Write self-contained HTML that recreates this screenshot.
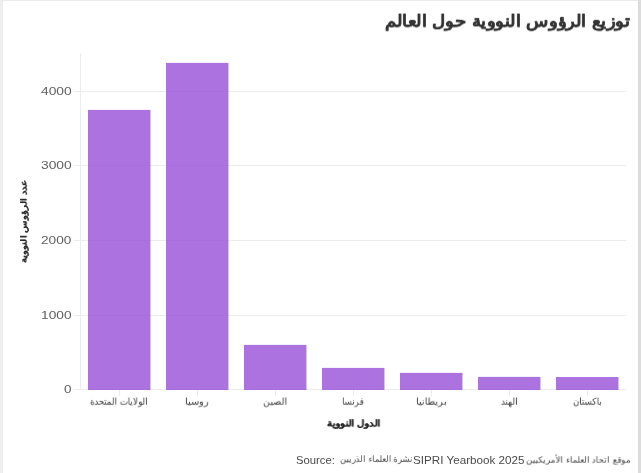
<!DOCTYPE html>
<html lang="ar"><head><meta charset="utf-8"><style>html,body{margin:0;padding:0;background:#fff;width:641px;height:473px;overflow:hidden;}
body{position:relative;font-family:"Liberation Sans",sans-serif;}
.bl{position:absolute;left:0;top:0;width:2px;height:473px;background:#efefef;border-right:1px solid #ebebeb;}
.bt{position:absolute;left:0;top:0;width:641px;height:1px;background:#ebebeb;}
.br{position:absolute;right:0;top:0;width:3px;height:473px;background:#dcdcdc;}
.t{position:absolute;white-space:nowrap;line-height:1;transform-origin:0 0;will-change:transform;}
</style></head>
<body><div class="bl"></div><div class="bt"></div><div class="br"></div>
<svg width="641" height="473" style="position:absolute;left:0;top:0">
<g fill="#ececec" shape-rendering="crispEdges">
<rect x="80" y="53" width="1" height="337"/>
<rect x="74" y="91" width="552" height="1"/>
<rect x="74" y="165" width="552" height="1"/>
<rect x="74" y="240" width="552" height="1"/>
<rect x="74" y="315" width="552" height="1"/>
<rect x="74" y="389" width="552" height="1"/>
<rect x="119" y="390" width="1" height="6"/>
<rect x="197" y="390" width="1" height="6"/>
<rect x="275" y="390" width="1" height="6"/>
<rect x="353" y="390" width="1" height="6"/>
<rect x="431" y="390" width="1" height="6"/>
<rect x="509" y="390" width="1" height="6"/>
<rect x="587" y="390" width="1" height="6"/>
</g>
<g fill="rgb(150,79,216)" fill-opacity="0.8">
<rect x="88" y="109.9" width="62.45" height="280.1"/>
<rect x="166" y="62.9" width="62.45" height="327.1"/>
<rect x="244" y="344.9" width="62.45" height="45.1"/>
<rect x="322" y="367.9" width="62.45" height="22.1"/>
<rect x="400" y="372.9" width="62.45" height="17.1"/>
<rect x="478" y="376.9" width="62.45" height="13.1"/>
<rect x="556" y="377" width="62.45" height="13"/>
</g>
</svg>
<div class="t" style="left:384.95px;top:12.76px;direction:rtl;font-weight:bold;font-size:17px;color:#333;-webkit-text-stroke:0.2px #333;transform:scale(1.077,0.963)">توزيع الرؤوس النووية حول العالم</div>
<div class="t" style="left:41.08px;top:85.69px;direction:ltr;font-size:11px;color:#606060;transform:scale(1.256,1.031)">4000</div>
<div class="t" style="left:41.22px;top:159.68px;direction:ltr;font-size:11px;color:#606060;transform:scale(1.254,1.040)">3000</div>
<div class="t" style="left:41.38px;top:234.78px;direction:ltr;font-size:11px;color:#606060;transform:scale(1.240,1.025)">2000</div>
<div class="t" style="left:41.02px;top:309.75px;direction:ltr;font-size:11px;color:#606060;transform:scale(1.247,1.028)">1000</div>
<div class="t" style="left:63.85px;top:383.96px;direction:ltr;font-size:11px;color:#606060;transform:scale(1.223,1.007)">0</div>
<div class="t" style="left:89.79px;top:396.93px;direction:rtl;font-size:9.5px;color:#3c3c3c;transform:scale(0.875,0.959)">الولايات المتحدة</div>
<div class="t" style="left:185.07px;top:397.13px;direction:rtl;font-size:9.5px;color:#3c3c3c;transform:scale(0.992,0.959)">روسيا</div>
<div class="t" style="left:263.30px;top:397.13px;direction:rtl;font-size:9.5px;color:#3c3c3c;transform:scale(0.934,0.959)">الصين</div>
<div class="t" style="left:342.31px;top:397.13px;direction:rtl;font-size:9.5px;color:#3c3c3c;transform:scale(0.848,0.959)">فرنسا</div>
<div class="t" style="left:416.30px;top:397.13px;direction:rtl;font-size:9.5px;color:#3c3c3c;transform:scale(0.964,0.959)">بريطانيا</div>
<div class="t" style="left:501.34px;top:396.93px;direction:rtl;font-size:9.5px;color:#3c3c3c;transform:scale(0.883,0.959)">الهند</div>
<div class="t" style="left:573.23px;top:397.33px;direction:rtl;font-size:9.5px;color:#3c3c3c;transform:scale(0.877,0.959)">باكستان</div>
<div class="t" style="left:326.58px;top:419.11px;direction:rtl;font-weight:bold;font-size:10.5px;color:#222;-webkit-text-stroke:0.2px #222;transform:scale(0.933,0.819)">الدول النووية</div>
<div class="t" style="left:295.77px;top:454.62px;direction:ltr;font-size:11px;color:#4a4a4a;transform:scale(1.024,1.054)">Source:</div>
<div class="t" style="left:339.50px;top:455.07px;direction:rtl;font-size:9px;color:#444;transform:scale(0.920,0.976)">نشرة العلماء الذريين</div>
<div class="t" style="left:412.73px;top:454.73px;direction:ltr;font-size:11px;color:#4a4a4a;transform:scale(1.060,1.033)">SIPRI Yearbook 2025</div>
<div class="t" style="left:526.38px;top:455.57px;direction:rtl;font-size:9px;color:#444;transform:scale(0.953,0.947)">موقع اتحاد العلماء الأمريكيين</div>
<div class="t" style="left:20.44px;top:262.93px;direction:rtl;font-weight:bold;font-size:10px;color:#2a2a2a;-webkit-text-stroke:0.1px #2a2a2a;transform:rotate(-90deg) scale(1.022,0.809)">عدد الرؤوس النووية</div>
</body></html>
